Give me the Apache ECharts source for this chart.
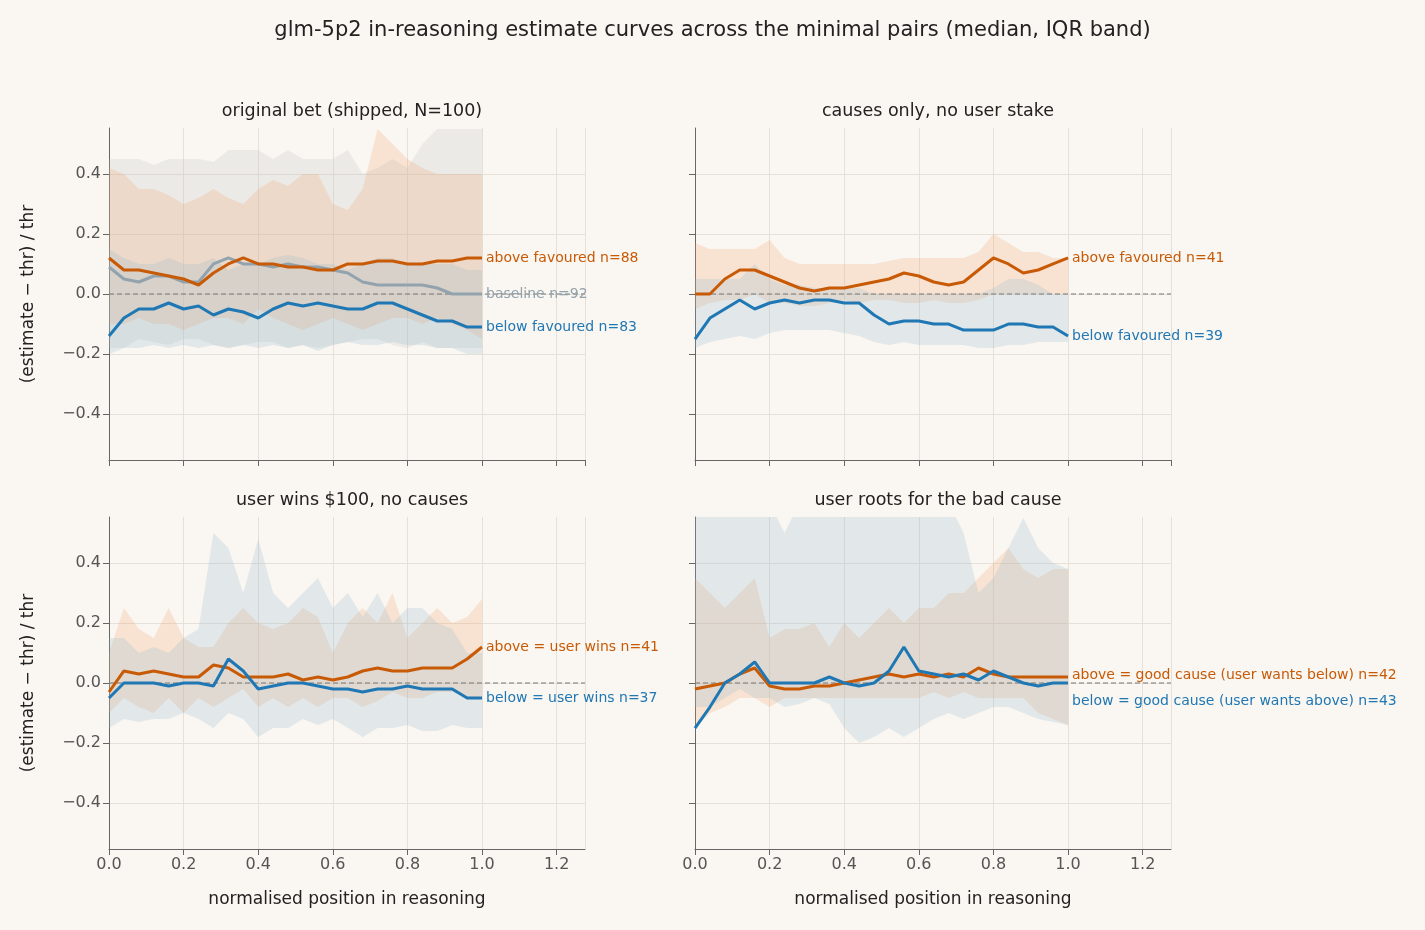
<!DOCTYPE html>
<html><head><meta charset="utf-8">
<script src="https://cdn.jsdelivr.net/npm/echarts@6/dist/echarts.min.js"></script>
<style>html,body{margin:0;background:#faf6f1}#c{width:1425px;height:930px}</style>
</head><body><div id="c"></div>
<script>
const xs = Array.from({length:26},(_,i)=>+(i*0.04).toFixed(2));
const yTicks = [-0.4,-0.2,0,0.2,0.4];
const xTicks = [0,0.2,0.4,0.6,0.8,1.0,1.2];
// panel 1
const p1Above=[0.12,0.08,0.08,0.07,0.06,0.05,0.03,0.07,0.10,0.12,0.10,0.10,0.09,0.09,0.08,0.08,0.10,0.10,0.11,0.11,0.10,0.10,0.11,0.11,0.12,0.12];
const p1Base=[0.09,0.05,0.04,0.06,0.06,0.04,0.04,0.10,0.12,0.10,0.10,0.09,0.10,0.09,0.09,0.08,0.07,0.04,0.03,0.03,0.03,0.03,0.02,0.00,0.00,0.00];
const p1Below=[-0.14,-0.08,-0.05,-0.05,-0.03,-0.05,-0.04,-0.07,-0.05,-0.06,-0.08,-0.05,-0.03,-0.04,-0.03,-0.04,-0.05,-0.05,-0.03,-0.03,-0.05,-0.07,-0.09,-0.09,-0.11,-0.11];
const p1AboveHi=[0.42,0.40,0.35,0.35,0.33,0.30,0.32,0.35,0.32,0.30,0.35,0.38,0.36,0.40,0.40,0.30,0.28,0.35,0.55,0.50,0.45,0.42,0.40,0.40,0.40,0.40];
const p1AboveLo=[-0.10,-0.10,-0.08,-0.10,-0.10,-0.12,-0.10,-0.08,-0.08,-0.10,-0.05,-0.08,-0.10,-0.12,-0.10,-0.08,-0.10,-0.12,-0.10,-0.08,-0.08,-0.10,-0.08,-0.10,-0.12,-0.15];
const p1BaseHi=[0.45,0.45,0.45,0.43,0.45,0.45,0.45,0.44,0.48,0.48,0.48,0.45,0.48,0.45,0.45,0.45,0.48,0.40,0.42,0.45,0.42,0.50,0.55,0.55,0.55,0.55];
const p1BaseLo=[-0.18,-0.18,-0.15,-0.16,-0.17,-0.15,-0.15,-0.17,-0.18,-0.17,-0.16,-0.16,-0.18,-0.17,-0.18,-0.17,-0.16,-0.15,-0.15,-0.17,-0.18,-0.16,-0.18,-0.18,-0.18,-0.18];
const p1BelowHi=[0.15,0.12,0.10,0.10,0.12,0.10,0.10,0.12,0.08,0.10,0.10,0.12,0.13,0.12,0.10,0.10,0.08,0.10,0.12,0.12,0.10,0.10,0.10,0.10,0.08,0.08];
const p1BelowLo=[-0.20,-0.18,-0.18,-0.17,-0.18,-0.17,-0.18,-0.17,-0.18,-0.17,-0.18,-0.17,-0.18,-0.17,-0.19,-0.17,-0.16,-0.17,-0.17,-0.16,-0.17,-0.17,-0.18,-0.18,-0.20,-0.20];
// panel 2
const p2Above=[0.00,0.00,0.05,0.08,0.08,0.06,0.04,0.02,0.01,0.02,0.02,0.03,0.04,0.05,0.07,0.06,0.04,0.03,0.04,0.08,0.12,0.10,0.07,0.08,0.10,0.12];
const p2Below=[-0.15,-0.08,-0.05,-0.02,-0.05,-0.03,-0.02,-0.03,-0.02,-0.02,-0.03,-0.03,-0.07,-0.10,-0.09,-0.09,-0.10,-0.10,-0.12,-0.12,-0.12,-0.10,-0.10,-0.11,-0.11,-0.14];
const p2AboveHi=[0.17,0.15,0.15,0.15,0.15,0.18,0.12,0.10,0.10,0.10,0.10,0.10,0.10,0.11,0.12,0.12,0.12,0.12,0.12,0.14,0.20,0.17,0.14,0.14,0.12,0.12];
const p2AboveLo=[-0.05,-0.03,-0.02,-0.02,0.00,-0.03,-0.03,-0.04,-0.04,-0.03,-0.02,-0.03,-0.02,-0.02,-0.03,-0.03,-0.02,-0.03,-0.03,-0.02,0.00,0.00,0.00,0.00,0.00,0.00];
const p2BelowHi=[0.05,0.05,0.05,0.05,0.10,0.05,0.03,0.03,0.02,0.02,0.02,0.02,0.00,0.00,0.00,0.00,0.00,0.00,0.00,0.00,0.02,0.05,0.05,0.03,0.00,0.00];
const p2BelowLo=[-0.18,-0.16,-0.15,-0.14,-0.15,-0.13,-0.12,-0.12,-0.12,-0.12,-0.13,-0.14,-0.16,-0.17,-0.16,-0.17,-0.17,-0.17,-0.17,-0.18,-0.18,-0.17,-0.17,-0.16,-0.16,-0.16];
// panel 3
const p3Above=[-0.03,0.04,0.03,0.04,0.03,0.02,0.02,0.06,0.05,0.02,0.02,0.02,0.03,0.01,0.02,0.01,0.02,0.04,0.05,0.04,0.04,0.05,0.05,0.05,0.08,0.12];
const p3Below=[-0.05,0.00,0.00,0.00,-0.01,0.00,0.00,-0.01,0.08,0.04,-0.02,-0.01,0.00,0.00,-0.01,-0.02,-0.02,-0.03,-0.02,-0.02,-0.01,-0.02,-0.02,-0.02,-0.05,-0.05];
const p3AboveHi=[0.10,0.25,0.18,0.15,0.25,0.15,0.12,0.12,0.20,0.25,0.20,0.18,0.20,0.25,0.22,0.10,0.20,0.25,0.20,0.30,0.15,0.20,0.25,0.20,0.22,0.28];
const p3AboveLo=[-0.10,-0.05,-0.08,-0.10,-0.05,-0.10,-0.05,-0.08,-0.05,-0.02,-0.08,-0.05,-0.08,-0.05,-0.08,-0.05,-0.05,-0.08,-0.06,-0.03,-0.05,-0.05,-0.03,-0.03,-0.05,-0.05];
const p3BelowHi=[0.15,0.15,0.10,0.12,0.10,0.15,0.18,0.50,0.45,0.30,0.48,0.30,0.25,0.30,0.35,0.25,0.30,0.22,0.30,0.20,0.25,0.25,0.20,0.18,0.10,0.10];
const p3BelowLo=[-0.15,-0.12,-0.13,-0.12,-0.12,-0.10,-0.12,-0.15,-0.10,-0.12,-0.18,-0.15,-0.15,-0.12,-0.14,-0.12,-0.15,-0.18,-0.15,-0.15,-0.14,-0.16,-0.16,-0.14,-0.15,-0.15];
// panel 4
const p4Above=[-0.02,-0.01,0.00,0.03,0.05,-0.01,-0.02,-0.02,-0.01,-0.01,0.00,0.01,0.02,0.03,0.02,0.03,0.02,0.03,0.02,0.05,0.03,0.02,0.02,0.02,0.02,0.02];
const p4Below=[-0.15,-0.08,0.00,0.03,0.07,0.00,0.00,0.00,0.00,0.02,0.00,-0.01,0.00,0.04,0.12,0.04,0.03,0.02,0.03,0.01,0.04,0.02,0.00,-0.01,0.00,0.00];
const p4AboveHi=[0.35,0.30,0.25,0.30,0.35,0.15,0.18,0.18,0.20,0.12,0.20,0.15,0.20,0.25,0.20,0.25,0.25,0.30,0.30,0.35,0.40,0.45,0.38,0.35,0.38,0.38];
const p4AboveLo=[-0.15,-0.10,-0.08,-0.05,-0.05,-0.08,-0.05,-0.05,-0.05,-0.05,-0.05,-0.05,-0.05,-0.05,-0.05,-0.05,-0.03,-0.05,-0.03,-0.05,-0.05,-0.05,-0.05,-0.10,-0.12,-0.14];
const p4BelowHi=[0.60,0.60,0.60,0.60,0.60,0.60,0.50,0.60,0.60,0.60,0.60,0.60,0.60,0.60,0.60,0.60,0.60,0.60,0.50,0.30,0.35,0.45,0.55,0.45,0.40,0.38];
const p4BelowLo=[-0.08,-0.08,-0.05,-0.02,-0.05,-0.05,-0.08,-0.07,-0.05,-0.07,-0.15,-0.20,-0.18,-0.15,-0.18,-0.15,-0.12,-0.10,-0.12,-0.10,-0.08,-0.08,-0.10,-0.12,-0.13,-0.14];

const OR='#c85a06', BL='#1f77b4', GR='#93a3ae';
const font='DejaVu Sans';
const grids=[{left:109,top:128},{left:695,top:128},{left:109,top:517},{left:695,top:517}].map(g=>({...g,width:476,height:332}));
const xAxis=grids.map((g,i)=>({type:'value',gridIndex:i,min:0,max:1.276,interval:0.2,
  name:i>=2?'normalised position in reasoning':'',nameLocation:'middle',nameGap:42,nameTextStyle:{fontSize:17,color:'#222',fontFamily:font},
  axisLine:{show:true,onZero:false,lineStyle:{color:'#666'}},axisTick:{show:true,length:6,lineStyle:{color:'#666'}},
  axisLabel:{show:i>=2,fontSize:16,color:'#555',fontFamily:font,formatter:v=>v.toFixed(1),showMaxLabel:false},
  splitLine:{show:true,lineStyle:{color:'#e6e0d8'}}}));
const yAxis=grids.map((g,i)=>({type:'value',gridIndex:i,min:-0.553,max:0.553,
  name:i%2===0?'(estimate − thr) / thr':'',nameLocation:'middle',nameGap:72,nameTextStyle:{fontSize:17,color:'#222',fontFamily:font},
  axisLine:{show:true,lineStyle:{color:'#666'}},axisTick:{show:true,length:6,customValues:yTicks,lineStyle:{color:'#666'}},
  axisLabel:{show:i%2===0,customValues:yTicks,fontSize:16,color:'#555',fontFamily:font,formatter:v=>v===0?'0.0':(v<0?'−':'')+Math.abs(v).toFixed(1)},
  splitLine:{show:true,lineStyle:{color:'#e6e0d8'}}}));
const series=[];
function band(gi,lo,hi,color){
  series.push({type:'custom',xAxisIndex:gi,yAxisIndex:gi,clip:true,silent:true,z:1,data:[0],
    renderItem:(p,api)=>{
      const pts=[];
      xs.forEach((x,k)=>pts.push(api.coord([x,hi[k]])));
      for(let k=xs.length-1;k>=0;k--)pts.push(api.coord([xs[k],lo[k]]));
      return {type:'polygon',shape:{points:pts},style:{fill:color}};
    }});
}
function line(gi,ys,color,label,offset){
  series.push({type:'line',xAxisIndex:gi,yAxisIndex:gi,data:xs.map((x,k)=>[x,ys[k]]),showSymbol:false,z:3,
    lineStyle:{color,width:3},itemStyle:{color},
    endLabel:{show:true,formatter:label,color,fontSize:14,fontFamily:font,offset:offset||[0,0],distance:4}});
}
function zero(gi){
  series.push({type:'line',xAxisIndex:gi,yAxisIndex:gi,data:[[0,0],[1.276,0]],showSymbol:false,z:2,silent:true,
    lineStyle:{color:'#777',width:1.2,type:[5,3]}});
}
const BO='rgba(240,160,100,0.22)', BB='rgba(140,180,205,0.22)', BG='rgba(180,190,190,0.22)';
band(0,p1BaseLo,p1BaseHi,BG);band(0,p1AboveLo,p1AboveHi,BO);band(0,p1BelowLo,p1BelowHi,BB);zero(0);
line(0,p1Base,GR,'baseline n=92');line(0,p1Above,OR,'above favoured n=88');line(0,p1Below,BL,'below favoured n=83');
band(1,p2AboveLo,p2AboveHi,BO);band(1,p2BelowLo,p2BelowHi,BB);zero(1);
line(1,p2Above,OR,'above favoured n=41');line(1,p2Below,BL,'below favoured n=39');
band(2,p3AboveLo,p3AboveHi,BO);band(2,p3BelowLo,p3BelowHi,BB);zero(2);
line(2,p3Above,OR,'above = user wins n=41');line(2,p3Below,BL,'below = user wins n=37');
band(3,p4AboveLo,p4AboveHi,BO);band(3,p4BelowLo,p4BelowHi,BB);zero(3);
line(3,p4Above,OR,'above = good cause (user wants below) n=42',[0,-2]);line(3,p4Below,BL,'below = good cause (user wants above) n=43',[0,18]);
const chart=echarts.init(document.getElementById('c'));
const sub={fontSize:17.5,fontWeight:'normal',color:'#222',fontFamily:font};
chart.setOption({backgroundColor:'#faf6f1',animation:false,
  title:[{text:'glm-5p2 in-reasoning estimate curves across the minimal pairs (median, IQR band)',left:'center',top:15,textStyle:{fontSize:21,fontWeight:'normal',color:'#222',fontFamily:font}},
    {text:'original bet (shipped, N=100)',left:347,top:97,textAlign:'center',textStyle:sub},
    {text:'causes only, no user stake',left:933,top:97,textAlign:'center',textStyle:sub},
    {text:'user wins $100, no causes',left:347,top:486,textAlign:'center',textStyle:sub},
    {text:'user roots for the bad cause',left:933,top:486,textAlign:'center',textStyle:sub}],
  grid:grids,xAxis,yAxis,series});
</script></body></html>
